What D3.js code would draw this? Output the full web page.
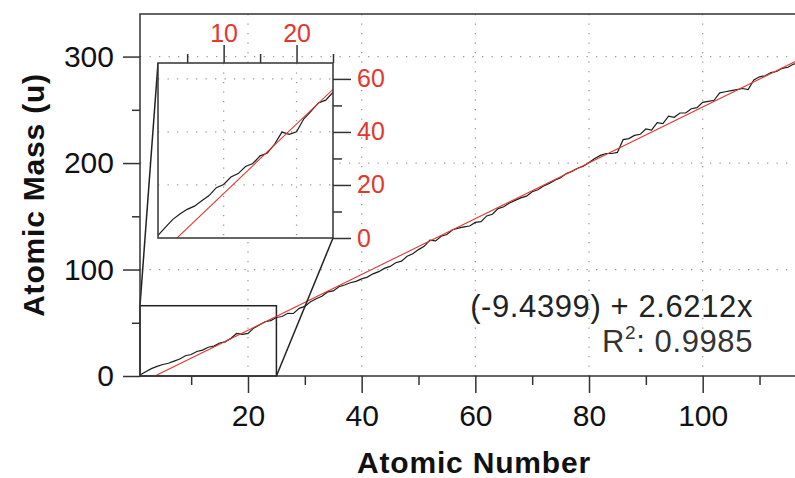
<!DOCTYPE html>
<html>
<head>
<meta charset="utf-8">
<script src="https://cdn.jsdelivr.net/npm/d3@7"></script>
<style>
body{margin:0;background:#fff;}
svg{display:block;font-family:"Liberation Sans",Arial,Helvetica,sans-serif;}
</style>
</head>
<body>
<svg id="chart" width="795" height="478"></svg>
<script>
// standard atomic mass (u), Z = 1 .. 118
const atomic_mass=[
    1.008,4.003,6.94,9.012,10.81,12.011,14.007,15.999,18.998,20.180,
    22.990,24.305,26.982,28.085,30.974,32.06,35.45,39.948,39.098,40.078,
    44.956,47.867,50.942,51.996,54.938,55.845,58.933,58.693,63.546,65.38,
    69.723,72.630,74.922,78.971,79.904,83.798,85.468,87.62,88.906,91.224,
    92.906,95.95,98,101.07,102.91,106.42,107.87,112.41,114.82,118.71,
    121.76,127.60,126.90,131.29,132.91,137.33,138.91,140.12,140.91,144.24,
    145,150.36,151.96,157.25,158.93,162.50,164.93,167.26,168.93,173.05,
    174.97,178.49,180.95,183.84,186.21,190.23,192.22,195.08,196.97,200.59,
    204.38,207.2,208.98,209,210,222,223,226,227,232.04,
    231.04,238.03,237,244,243,247,247,251,252,257,
    258,259,266,267,268,269,270,269,278,281,
    282,285,286,289,290,293,294,294
];
const fit_intercept=-9.4399;
const fit_slope=2.6212;
const fit_text="(-9.4399) + 2.6212x";
const r2_text=": 0.9985";

const x_major_ticks=[20,40,60,80,100];
const x_minor_ticks=[10,30,50,70,90,110];
const y_major_ticks=[0,100,200,300];
const y_minor_ticks=[50,150,250];
const inset_x_major=[10,20];
const inset_x_minor=[5,15,25];
const inset_y_major=[0,20,40,60];
const inset_y_minor=[10,30,50];
const inset_x_range=[1,25];
const inset_y_range=[0,66];

const points=atomic_mass.map((m,i)=>({z:i+1,m:m}));
const fit_at=(z)=>({z:z,m:fit_intercept+fit_slope*z});

const svg=d3.select("#chart");
const axis_color="#333";
const red="#e2372e";

// main scales
const x=d3.scaleLinear().domain([1,118]).range([140,805]);
const y=d3.scaleLinear().domain([0,340]).range([376,14]);

// inset scales
const ix=d3.scaleLinear().domain(inset_x_range).range([158,333]);
const iy=d3.scaleLinear().domain(inset_y_range).range([238,63]);

const defs=svg.append("defs");
defs.append("clipPath").attr("id","main_clip")
    .append("rect").attr("x",x(1)).attr("y",y(340)).attr("width",x(118)-x(1)).attr("height",y(0)-y(340));
defs.append("clipPath").attr("id","inset_clip")
    .append("rect").attr("x",ix(inset_x_range[0])).attr("y",iy(inset_y_range[1]))
    .attr("width",ix(inset_x_range[1])-ix(inset_x_range[0])).attr("height",iy(0)-iy(inset_y_range[1]));

// dotted grid
function grid(g,xs,ys,xscale,yscale){
    for(const v of xs){
        g.append("line")
            .attr("x1",xscale(v)).attr("x2",xscale(v))
            .attr("y1",yscale.range()[1]).attr("y2",yscale.range()[0])
            .attr("stroke","#9a9a9a").attr("stroke-width",1.3)
            .attr("stroke-dasharray","1.3,8.2");
    }
    for(const v of ys){
        g.append("line")
            .attr("x1",xscale.range()[0]).attr("x2",xscale.range()[1])
            .attr("y1",yscale(v)).attr("y2",yscale(v))
            .attr("stroke","#9a9a9a").attr("stroke-width",1.3)
            .attr("stroke-dasharray","1.3,8.2");
    }
}
grid(svg.append("g"),x_major_ticks,[100,200,300],x,y);

const line=d3.line().x(d=>x(d.z)).y(d=>y(d.m));
const inset_line=d3.line().x(d=>ix(d.z)).y(d=>iy(d.m));

// zoom box in main plot
svg.append("rect")
    .attr("x",x(inset_x_range[0])).attr("y",y(inset_y_range[1]))
    .attr("width",x(inset_x_range[1])-x(inset_x_range[0]))
    .attr("height",y(0)-y(inset_y_range[1]))
    .attr("fill","none").attr("stroke","#222").attr("stroke-width",1.5);

// main data + fit
const main_g=svg.append("g").attr("clip-path","url(#main_clip)");
main_g.append("path").datum(points)
    .attr("d",line).attr("fill","none")
    .attr("stroke","#1c1c1c").attr("stroke-width",1.2);
main_g.append("path").datum([fit_at(1),fit_at(118)])
    .attr("d",line).attr("fill","none")
    .attr("stroke",red).attr("stroke-width",1.1);

// connecting lines
svg.append("line")
    .attr("x1",x(inset_x_range[0])).attr("y1",y(inset_y_range[1]))
    .attr("x2",ix(inset_x_range[0])).attr("y2",iy(inset_y_range[1]))
    .attr("stroke","#222").attr("stroke-width",1.5);
svg.append("line")
    .attr("x1",x(inset_x_range[1])).attr("y1",y(0))
    .attr("x2",ix(inset_x_range[1])).attr("y2",iy(0))
    .attr("stroke","#222").attr("stroke-width",1.5);

// frame
svg.append("path")
    .attr("d",`M${x(1)},${y(0)}H${x(118)}M${x(1)},${y(0)}V${y(340)}H${x(118)}`)
    .attr("fill","none").attr("stroke",axis_color).attr("stroke-width",1.5);

function style_axis(g,color,font_size){
    g.select(".domain").remove();
    g.selectAll(".tick line").attr("stroke",axis_color).attr("stroke-width",1.5);
    g.selectAll(".tick text").attr("fill",color).attr("font-size",font_size)
        .attr("font-family",null);
}

// main axes
const xa=svg.append("g").attr("transform",`translate(0,${y(0)})`)
    .call(d3.axisBottom(x).tickValues(x_major_ticks).tickSize(17).tickPadding(12));
style_axis(xa,"#111",30);
const xa_minor=svg.append("g").attr("transform",`translate(0,${y(0)})`)
    .call(d3.axisBottom(x).tickValues(x_minor_ticks).tickSize(9).tickFormat(""));
style_axis(xa_minor,"#111",30);

const ya=svg.append("g").attr("transform",`translate(${x(1)},0)`)
    .call(d3.axisLeft(y).tickValues(y_major_ticks).tickSize(17).tickPadding(9));
style_axis(ya,"#111",30);
const ya_minor=svg.append("g").attr("transform",`translate(${x(1)},0)`)
    .call(d3.axisLeft(y).tickValues(y_minor_ticks).tickSize(8).tickFormat(""));
style_axis(ya_minor,"#111",30);

// inset
const inset=svg.append("g");
inset.append("rect")
    .attr("x",ix(inset_x_range[0])).attr("y",iy(inset_y_range[1]))
    .attr("width",ix(inset_x_range[1])-ix(inset_x_range[0]))
    .attr("height",iy(0)-iy(inset_y_range[1]))
    .attr("fill","#fff");
grid(inset.append("g"),inset_x_major,[20,40,60],ix,iy);
const inset_g=inset.append("g").attr("clip-path","url(#inset_clip)");
inset_g.append("path").datum(points.filter(d=>d.z<=26))
    .attr("d",inset_line).attr("fill","none")
    .attr("stroke","#1c1c1c").attr("stroke-width",1.2);
inset_g.append("path").datum([fit_at(1),fit_at(25)])
    .attr("d",inset_line).attr("fill","none")
    .attr("stroke",red).attr("stroke-width",1.1);
inset.append("rect")
    .attr("x",ix(inset_x_range[0])).attr("y",iy(inset_y_range[1]))
    .attr("width",ix(inset_x_range[1])-ix(inset_x_range[0]))
    .attr("height",iy(0)-iy(inset_y_range[1]))
    .attr("fill","none").attr("stroke",axis_color).attr("stroke-width",1.5);

const ixa=inset.append("g").attr("transform",`translate(0,${iy(inset_y_range[1])})`)
    .call(d3.axisTop(ix).tickValues(inset_x_major).tickSize(18).tickPadding(3));
style_axis(ixa,red,25);
const ixa_minor=inset.append("g").attr("transform",`translate(0,${iy(inset_y_range[1])})`)
    .call(d3.axisTop(ix).tickValues(inset_x_minor).tickSize(9).tickFormat(""));
style_axis(ixa_minor,red,25);
const iya=inset.append("g").attr("transform",`translate(${ix(inset_x_range[1])},0)`)
    .call(d3.axisRight(iy).tickValues(inset_y_major).tickSize(18).tickPadding(6));
style_axis(iya,red,25);
const iya_minor=inset.append("g").attr("transform",`translate(${ix(inset_x_range[1])},0)`)
    .call(d3.axisRight(iy).tickValues(inset_y_minor).tickSize(9).tickFormat(""));
style_axis(iya_minor,red,25);

// axis titles
svg.append("text")
    .attr("x",474).attr("y",473)
    .attr("text-anchor","middle")
    .attr("font-size",30).attr("font-weight","bold")
    .attr("letter-spacing",0.8)
    .attr("fill","#111")
    .text("Atomic Number");
svg.append("text")
    .attr("transform","translate(44,195) rotate(-90)")
    .attr("text-anchor","middle")
    .attr("font-size",30).attr("font-weight","bold")
    .attr("letter-spacing",0.8)
    .attr("fill","#111")
    .text("Atomic Mass (u)");

// fit equation
svg.append("text")
    .attr("x",753).attr("y",317)
    .attr("text-anchor","end")
    .attr("font-size",31).attr("letter-spacing",0.6)
    .attr("fill","#222")
    .text(fit_text);
const r2=svg.append("text")
    .attr("x",753).attr("y",352)
    .attr("text-anchor","end")
    .attr("font-size",31).attr("letter-spacing",0.6)
    .attr("fill","#333");
r2.append("tspan").text("R");
r2.append("tspan").attr("font-size",19).attr("dy",-13).text("2");
r2.append("tspan").attr("dy",13).text(r2_text);
</script>
</body>
</html>
